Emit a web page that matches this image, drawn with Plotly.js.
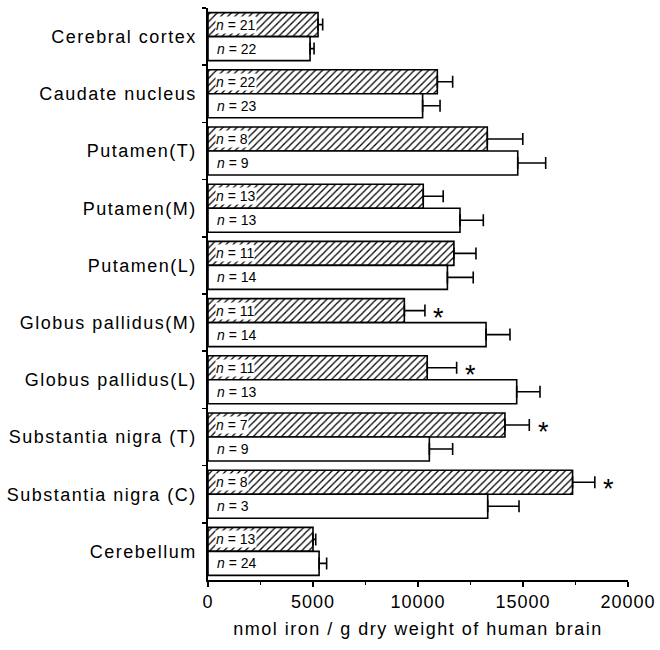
<!DOCTYPE html>
<html>
<head>
<meta charset="utf-8">
<script src="https://cdn.plot.ly/plotly-3.0.1.min.js"></script>
<style>
html, body { margin: 0; padding: 0; background: #fff; }
#chart { width: 660px; height: 650px; }
.ytick text { letter-spacing: 1.5px; }
.xtick text { letter-spacing: 1px; }
.g-xtitle text { letter-spacing: 1.5px; }
</style>
</head>
<body>
<div id="chart"></div>
<script>
const categories = ['Cerebral cortex', 'Caudate nucleus', 'Putamen(T)', 'Putamen(M)', 'Putamen(L)',
  'Globus pallidus(M)', 'Globus pallidus(L)', 'Substantia nigra (T)', 'Substantia nigra (C)', 'Cerebellum'];
const hatchedValues = [5240, 10920, 13300, 10250, 11710, 9350, 10440, 14140, 17360, 5000];
const hatchedErrors = [220, 730, 1690, 950, 1050, 980, 1400, 1160, 1060, 130];
const whiteValues = [4860, 10220, 14750, 12000, 11400, 13240, 14700, 10540, 13320, 5290];
const whiteErrors = [190, 830, 1330, 1110, 1230, 1140, 1110, 1110, 1490, 360];
const hatchedN = [21, 22, 8, 13, 11, 11, 11, 7, 8, 13];
const whiteN = [22, 23, 9, 13, 14, 14, 13, 9, 3, 24];
const significant = [false, false, false, false, false, true, true, true, true, false];
const xTickValues = [0, 5000, 10000, 15000, 20000];
const xTitle = 'nmol iron / g dry weight of human brain';

const zeros = categories.map(() => 0);
const FONT = 'Liberation Sans, Arial, Helvetica, sans-serif';

const traceHatched = {
  type: 'bar', orientation: 'h', y: categories, x: hatchedValues,
  marker: { color: 'white', line: { color: 'black', width: 1.6 },
    pattern: { shape: '/', fgcolor: 'black', bgcolor: 'white', size: 5, solidity: 0.25 } },
  error_x: { type: 'data', array: hatchedErrors, arrayminus: zeros, symmetric: false,
    color: 'black', thickness: 1.6, width: 6 },
  hoverinfo: 'none', showlegend: false
};
const traceWhite = {
  type: 'bar', orientation: 'h', y: categories, x: whiteValues,
  marker: { color: 'white', line: { color: 'black', width: 1.6 } },
  error_x: { type: 'data', array: whiteErrors, arrayminus: zeros, symmetric: false,
    color: 'black', thickness: 1.6, width: 6 },
  hoverinfo: 'none', showlegend: false
};

const annotations = [];
categories.forEach((c, i) => {
  annotations.push({
    x: 0, y: c, xref: 'x', yref: 'y', xanchor: 'left', yanchor: 'middle',
    xshift: 7, yshift: 12, showarrow: false, text: '<i>n</i> = ' + hatchedN[i],
    font: { family: FONT, size: 14, color: 'black' }, bgcolor: 'white', borderpad: 0
  });
  annotations.push({
    x: 0, y: c, xref: 'x', yref: 'y', xanchor: 'left', yanchor: 'middle',
    xshift: 7, yshift: -12, showarrow: false, text: '<i>n</i> = ' + whiteN[i],
    font: { family: FONT, size: 14, color: 'black' }
  });
  if (significant[i]) {
    annotations.push({
      x: hatchedValues[i] + hatchedErrors[i], y: c, xref: 'x', yref: 'y',
      xanchor: 'center', yanchor: 'middle', xshift: 14, yshift: 5, showarrow: false,
      text: '*', font: { family: FONT, size: 27, color: 'black' }
    });
  }
});

const layout = {
  width: 660, height: 650,
  margin: { l: 208, r: 32, t: 8, b: 70 },
  paper_bgcolor: 'white', plot_bgcolor: 'white',
  barmode: 'group', bargap: 0.16, bargroupgap: 0,
  font: { family: FONT, color: 'black' },
  xaxis: {
    range: [0, 20000], tickvals: xTickValues, ticktext: xTickValues.map(String),
    showgrid: false, zeroline: false, showline: true, linecolor: 'black', linewidth: 1.6,
    ticks: 'outside', ticklen: 5, tickwidth: 1.6, tickcolor: 'black',
    minor: { dtick: 2500, tick0: 0, ticks: 'outside', ticklen: 3, tickwidth: 1.4, tickcolor: 'black' },
    tickfont: { family: FONT, size: 18, color: 'black' },
    title: { text: xTitle, font: { family: FONT, size: 18, color: 'black' }, standoff: 11 },
    fixedrange: true
  },
  yaxis: {
    type: 'category', autorange: 'reversed', categoryorder: 'array', categoryarray: categories,
    showgrid: false, zeroline: false, showline: true, linecolor: 'black', linewidth: 1.6,
    ticks: 'outside', tickson: 'boundaries', ticklen: 4, tickwidth: 1.6, tickcolor: 'black',
    tickfont: { family: FONT, size: 18, color: 'black' }, ticklabelstandoff: 6,
    fixedrange: true
  },
  annotations: annotations
};

Plotly.newPlot('chart', [traceHatched, traceWhite], layout, { displayModeBar: false, staticPlot: true });
</script>
</body>
</html>
